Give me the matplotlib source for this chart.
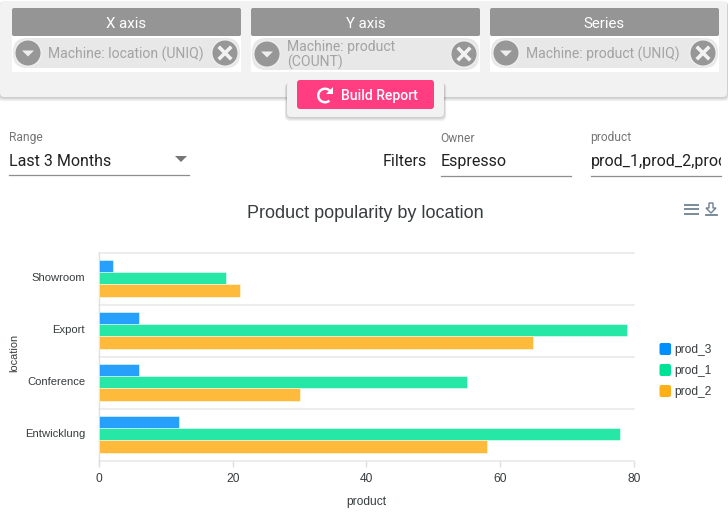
import matplotlib
matplotlib.use('Agg')
import matplotlib.pyplot as plt
from matplotlib.patches import FancyBboxPatch, Circle, Rectangle, Polygon, Arc
from matplotlib.transforms import ScaledTranslation

# chart data
locations = ['Showroom', 'Export', 'Conference', 'Entwicklung']
series_names = ['prod_3', 'prod_1', 'prod_2']
prod_3 = [2, 6, 6, 12]
prod_1 = [19, 79, 55, 78]
prod_2 = [21, 65, 30, 58]
x_ticks = [0, 20, 40, 60, 80]
bar_colors = ['#008FFB', '#00E396', '#FEB019']

# widget texts
card_titles = ['X axis', 'Y axis', 'Series']
card_values = ['Machine: location (UNIQ)', 'Machine: product\n(COUNT)', 'Machine: product (UNIQ)']

W, H = 728, 514
UI_FONT = 'Roboto'
CHART_FONT = 'Liberation Sans'


def px(size):
    # css pixels to points
    return size * 0.72


def round_box(ax, x0, y0, x1, y1, color, r=3, z=1):
    box = FancyBboxPatch((x0 + r, y0 + r), x1 - x0 - 2 * r, y1 - y0 - 2 * r,
                         boxstyle=f'round,pad={r},rounding_size={r}',
                         fc=color, ec='none', zorder=z)
    ax.add_patch(box)


def shadow_box(ax, x0, y0, x1, y1, color, z=1):
    # soft shadow made of a few see through layers
    for i in range(6, 0, -1):
        round_box(ax, x0 - i * 0.4, y0 + 1, x1 + i * 0.4, y1 + i * 0.7, '#00000009', r=5, z=z)
    round_box(ax, x0, y0, x1, y1, color, r=4, z=z + 0.1)


def round_button(ax, cx, cy, kind):
    ax.add_patch(Circle((cx, cy), 14, fc='#eeeeee', ec='none', zorder=4))
    ax.add_patch(Circle((cx, cy), 12.5, fc='#979797', ec='none', zorder=5))
    if kind == 'down':
        ax.add_patch(Polygon([(cx - 6, cy - 2.5), (cx + 6, cy - 2.5), (cx, cy + 3.5)],
                             fc='#eeeeee', ec='none', zorder=6))
    else:
        ax.plot([cx - 5, cx + 5], [cy - 5, cy + 5], color='#f2f2f2', lw=2.6, zorder=6)
        ax.plot([cx - 5, cx + 5], [cy + 5, cy - 5], color='#f2f2f2', lw=2.6, zorder=6)


fig = plt.figure(figsize=(W / 100, H / 100), dpi=100, facecolor='white')

# page layer in pixel coordinates
ui = fig.add_axes([0, 0, 1, 1])
ui.set_xlim(0, W)
ui.set_ylim(H, 0)
ui.axis('off')

# top panel
shadow_box(ui, 0, 1, 727, 97, '#f2f2f2')

card_x = [12, 251, 490]
for i in range(3):
    x0 = card_x[i]
    x1 = x0 + 229
    cy = 54 if i == 1 else 53
    ui.add_patch(Rectangle((x0, 36), 229, 36, fc='white', ec='none', zorder=2))
    round_box(ui, x0, 8, x1, 36, '#959595', r=2, z=2)
    ui.text((x0 + x1) / 2, 23.5, card_titles[i], color='white', fontsize=px(15),
            family=UI_FONT, ha='center', va='center', zorder=3)
    round_box(ui, x0 + 1, 38, x1 - 1, 70 if i == 1 else 68, '#e8e8e8', r=14, z=3)
    round_button(ui, x0 + 16, cy, 'down')
    round_button(ui, x0 + 213, cy, 'close')
    ui.text(x0 + 36, 55 if i == 1 else 54.5, card_values[i], color='#a3a3a3', fontsize=px(14), linespacing=1.12,
            family=UI_FONT, ha='left', va='center', zorder=6)

# build report button
shadow_box(ui, 287, 82, 444, 117, '#f2f2f2', z=7)
round_box(ui, 297, 80, 434, 109, '#ff3d80', r=3, z=8)
ui.add_patch(Arc((325, 95.5), 13.5, 13.5, theta1=50, theta2=340, ec='white', lw=1.8, zorder=9))
ui.add_patch(Polygon([(333, 87), (333, 94), (326, 94)], fc='white', ec='none', zorder=9))
ui.text(379, 96, 'Build Report', color='white', fontsize=px(14), fontweight='medium',
        family=UI_FONT, ha='center', va='center', zorder=9)

# filter row
ui.text(9, 137, 'Range', color='#757575', fontsize=px(12), family=UI_FONT, ha='left', va='center')
ui.text(9, 161, 'Last 3 Months', color='#212121', fontsize=px(16), family=UI_FONT, ha='left', va='center')
ui.add_patch(Polygon([(175, 156), (187, 156), (181, 162)], fc='#757575', ec='none'))
ui.plot([9, 188.5], [174.5, 174.5], color='#8f8f8f', lw=0.9)

ui.text(427, 161.5, 'Filters', color='#212121', fontsize=px(16), family=UI_FONT, ha='right', va='center')
ui.text(440.5, 138, 'Owner', color='#757575', fontsize=px(12), family=UI_FONT, ha='left', va='center')
ui.text(441, 161.5, 'Espresso', color='#212121', fontsize=px(16), family=UI_FONT, ha='left', va='center')
ui.plot([441, 570.5], [175.5, 175.5], color='#8f8f8f', lw=0.9)
ui.text(590.5, 138, 'product', color='#757575', fontsize=px(12), family=UI_FONT, ha='left', va='center')
owner_text = ui.text(591, 161.5, 'prod_1,prod_2,prod', color='#212121', fontsize=px(16), family=UI_FONT,
                     ha='left', va='center', clip_on=True)
owner_text.set_clip_path(Rectangle((591, 150), 130, 24, transform=ui.transData))
ui.plot([591, 720.5], [175.5, 175.5], color='#8f8f8f', lw=0.9)

# chart title and toolbar
ui.text(365.5, 213.5, 'Product popularity by location', color='#373d3f', fontsize=px(18),
        family=CHART_FONT, ha='center', va='center')
for y in [204.5, 209, 213.5]:
    ui.plot([684, 699], [y, y], color='#6e8192', lw=1.3, solid_capstyle='butt')
ui.add_patch(Polygon([(709, 203), (713, 203), (713, 208), (716, 208), (711, 213), (706, 208), (709, 208)],
                     fc='white', ec='#6e8192', lw=1.0))
ui.plot([705.5, 717], [215, 215], color='#6e8192', lw=1.3)

# legend
legend_y = [349, 370, 391]
for i in range(3):
    round_box(ui, 659.5, legend_y[i] - 6, 671, legend_y[i] + 6, bar_colors[i], r=2)
    ui.text(674, legend_y[i] + 1, series_names[i], color='#373d3f', fontsize=px(12),
            family=CHART_FONT, ha='left', va='center')

# bar chart
ax = fig.add_axes([99.2 / W, 1 - 461 / H, 534.5 / W, 208 / H], facecolor='none')
bar_h = 0.235
for i, values in enumerate([prod_3, prod_1, prod_2]):
    pos = [k + (i - 1) * bar_h - 0.012 for k in range(len(locations))]
    ax.barh(pos, values, height=bar_h, color=bar_colors[i], alpha=0.85, edgecolor='white',
            linewidth=0.4, zorder=3)

ax.set_xlim(0, 80)
ax.set_ylim(3.5, -0.5)
ax.set_yticks(range(len(locations)))
ax.set_yticklabels(locations)
ax.set_xticks(x_ticks)
for b in [-0.5, 0.5, 1.5, 2.5, 3.5]:
    ax.axhline(b, color='#e8e8e8', lw=1.1, zorder=1, clip_on=False)
for s in ['top', 'right', 'bottom']:
    ax.spines[s].set_visible(False)
ax.spines['left'].set_color('#e0e0e0')
ax.spines['left'].set_linewidth(1.0)
ax.spines['left'].set_bounds(3.57, -0.5)
ax.tick_params(axis='y', length=0, pad=10.2, labelsize=px(11.2), labelcolor='#373d3f')
ax.tick_params(axis='x', length=4, width=1, color='#e0e0e0', pad=4.5, labelsize=px(12), labelcolor='#373d3f')
for label in ax.get_xticklabels() + ax.get_yticklabels():
    label.set_fontfamily(CHART_FONT)
# category labels sit a little above the band centre
lift = ScaledTranslation(0, 2 / 100, fig.dpi_scale_trans)
for label in ax.get_yticklabels():
    label.set_transform(label.get_transform() + lift)
ax.set_xlabel('product', fontsize=px(12), color='#373d3f', family=CHART_FONT, labelpad=8.3)
ui.text(14.5, 352.5, 'location', color='#373d3f', fontsize=px(11), family=CHART_FONT,
        rotation=90, ha='center', va='center')

fig.savefig('out.png', dpi=100)
